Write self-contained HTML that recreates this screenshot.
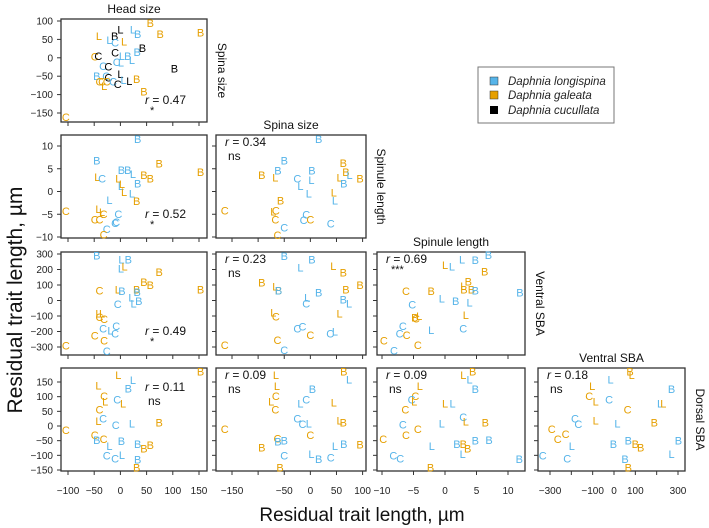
<!DOCTYPE html>
<html><head><meta charset="utf-8"><style>
html,body{margin:0;padding:0;background:#fff;}
svg{display:block;font-family:"Liberation Sans",sans-serif;}
</style></head><body>
<svg id="chart" width="709" height="528" viewBox="0 0 709 528">
<text x="22" y="300" font-size="21" text-anchor="middle" transform="rotate(-90 22 300)" fill="#111">Residual trait length, µm</text>
<text x="362" y="521" font-size="19" text-anchor="middle" fill="#111">Residual trait length, µm</text>
<g>
<rect x="478" y="67" width="136" height="56" fill="#fff" stroke="#777" stroke-width="1"/>
<rect x="490" y="77" width="8" height="8" fill="#56b4e9" stroke="#333" stroke-width="0.5"/>
<text x="508" y="85" font-size="11.5" font-style="italic" fill="#222">Daphnia longispina</text>
<rect x="490" y="91" width="8" height="8" fill="#e69f00" stroke="#333" stroke-width="0.5"/>
<text x="508" y="99" font-size="11.5" font-style="italic" fill="#222">Daphnia galeata</text>
<rect x="490" y="106" width="8" height="8" fill="#000"/>
<text x="508" y="114" font-size="11.5" font-style="italic" fill="#222">Daphnia cucullata</text>
</g>
</svg>
<script>
// data: [x, y, species+letter]  b=longispina o=galeata k=cucullata
const p00=[[57,95,'oB'],[76,64,'oB'],[153,69,'oB'],[-41,59,'oL'],[0,77,'kL'],[-11,59,'kB'],[24,77,'bL'],[33,64,'bB'],[-21,48,'bL'],[-10,41,'bC'],[7,44,'oL'],[-10,15,'kC'],[3,5,'bL'],[14,5,'bB'],[32,16,'bB'],[42,26,'kB'],[22,-6,'bL'],[-49,3,'oC'],[-42,5,'kC'],[-7,-11,'bC'],[1,-13,'bL'],[-33,-22,'bC'],[-23,-24,'kC'],[103,-29,'kB'],[-45,-49,'bB'],[-27,-49,'bC'],[-23,-53,'kC'],[0,-44,'kL'],[6,-60,'bL'],[17,-63,'kL'],[31,-58,'oB'],[-40,-65,'oC'],[-35,-65,'oC'],[-31,-76,'oL'],[-26,-65,'oC'],[-14,-65,'bC'],[-5,-71,'kC'],[45,-91,'oB'],[-104,-161,'oC']];
const p10=[[33,11.5,'bB'],[-45,6.8,'bB'],[74,6.2,'oB'],[153,4.3,'oB'],[-44,3.2,'oL'],[-35,2.9,'bC'],[2,4.7,'bB'],[14,4.7,'bB'],[24,3.8,'bL'],[-4,2.9,'oL'],[3,1.6,'oL'],[45,3.6,'oB'],[57,2.9,'oB'],[33,1.8,'bB'],[1,1.2,'bL'],[7,-0.1,'oL'],[22,-0.4,'bL'],[31,-2.1,'oB'],[-21,-1.9,'bL'],[-42,-3.8,'oL'],[-35,-4.5,'oL'],[-32,-4.9,'oC'],[-104,-4.3,'oC'],[-4,-4.9,'bC'],[-49,-6.2,'oC'],[-40,-6.2,'oC'],[-8,-6.7,'bC'],[-10,-6.9,'bC'],[-26,-8.2,'bC'],[-32,-9.4,'oC']];
const p20=[[-45,291,'bB'],[2,265,'bL'],[15,265,'bB'],[1,207,'bL'],[8,218,'oL'],[74,183,'oB'],[45,119,'oB'],[57,99,'oB'],[153,71,'oB'],[-40,63,'oC'],[-5,71,'oL'],[3,60,'bB'],[31,71,'oB'],[32,54,'bB'],[21,19,'bL'],[35,-4,'bB'],[25,-19,'bL'],[-5,-24,'bC'],[-42,-84,'oL'],[-35,-84,'oL'],[-40,-106,'oC'],[-31,-119,'oC'],[-8,-166,'bC'],[-33,-181,'bC'],[-19,-192,'bL'],[-10,-214,'bC'],[-49,-225,'oC'],[-31,-257,'oC'],[-26,-326,'bC'],[-104,-291,'oC']];
const p30=[[153,185,'oB'],[-4,174,'oL'],[24,157,'bL'],[15,128,'bB'],[-42,138,'oL'],[-31,102,'oC'],[-29,83,'oL'],[-6,91,'bC'],[5,77,'oL'],[-40,57,'oC'],[-42,17,'oL'],[-33,26,'bC'],[-9,3,'bC'],[22,9,'bL'],[74,12,'oB'],[-49,-31,'oC'],[-45,-48,'bB'],[-32,-45,'oC'],[2,-51,'bB'],[-21,-68,'bL'],[33,-61,'bB'],[45,-76,'oB'],[57,-65,'oB'],[-26,-101,'bC'],[-10,-110,'bC'],[3,-99,'bL'],[33,-114,'bB'],[31,-142,'oB'],[-104,-14,'oC']];
const p11=[[16,11.5,'bB'],[-50,6.8,'bB'],[-62,4.6,'bB'],[-93,3.6,'oB'],[-67,3.1,'oL'],[-25,2.9,'bC'],[-19,1.2,'bL'],[3,4.6,'bB'],[2,2.5,'bL'],[-3,-0.4,'bL'],[63,6.3,'oB'],[68,4.3,'oB'],[56,3.1,'oL'],[75,3.6,'bL'],[64,1.8,'bB'],[95,2.9,'oB'],[45,-0.2,'oL'],[47,-2.0,'bL'],[-57,-2.0,'oB'],[-71,-4.4,'oL'],[-66,-4.2,'oC'],[-67,-6.1,'oC'],[-164,-4.2,'oC'],[-8,-5.0,'bC'],[-13,-6.3,'bC'],[0,-6.1,'oC'],[39,-7.0,'bC'],[-50,-7.9,'bC'],[-63,-9.6,'oC']];
const p21=[[-50,287,'bB'],[3,266,'bB'],[-19,212,'bL'],[44,223,'oL'],[63,182,'oB'],[-93,117,'oB'],[-67,89,'oL'],[-61,63,'oB'],[-61,63,'bB'],[16,52,'bB'],[68,72,'oB'],[95,100,'oB'],[-6,20,'bL'],[-8,-18,'bC'],[63,5,'bB'],[74,-18,'bL'],[-71,-79,'oL'],[-66,-104,'oC'],[56,-83,'oL'],[-25,-180,'bC'],[-15,-169,'bC'],[0,-223,'oC'],[38,-212,'bC'],[47,-201,'bL'],[-164,-287,'oC'],[-63,-255,'oC'],[-50,-319,'bC']];
const p31=[[64,185,'oB'],[74,159,'bL'],[-66,174,'oL'],[-64,137,'oL'],[4,126,'bB'],[-66,102,'oC'],[-75,83,'oL'],[-8,91,'bC'],[-19,77,'bL'],[-67,56,'oC'],[45,80,'oL'],[-25,26,'bC'],[-15,7,'bC'],[-3,9,'bL'],[56,18,'oL'],[63,12,'oB'],[-164,-11,'oC'],[0,-31,'oC'],[-63,-42,'oC'],[-62,-52,'bB'],[-50,-50,'bB'],[-93,-74,'oB'],[47,-68,'bL'],[64,-61,'bB'],[95,-63,'oB'],[-50,-101,'bC'],[2,-95,'bL'],[16,-112,'bB'],[39,-108,'bC'],[-58,-141,'oB']];
const p22=[[6.9,294,'bB'],[2.7,266,'bL'],[4.8,261,'bB'],[0,229,'oL'],[1.1,218,'bL'],[6.3,186,'oB'],[3.7,121,'oB'],[2.9,94,'oL'],[3.0,72,'oB'],[4.2,72,'oB'],[4.8,63,'bB'],[-6.2,61,'oC'],[-2.2,61,'oB'],[-0.5,14,'bL'],[1.7,-3,'bB'],[3.9,-14,'bL'],[11.9,53,'bB'],[-5.2,-25,'bC'],[-4.1,-100,'oL'],[-4.8,-109,'oB'],[-4.6,-115,'oC'],[3.3,-94,'oL'],[-6.7,-165,'bC'],[-7.2,-212,'bC'],[-6.1,-223,'oC'],[-2.2,-190,'bL'],[2.9,-180,'bC'],[-9.7,-259,'oC'],[-4.3,-287,'oC'],[-8.1,-324,'bC']];
const p32=[[4.4,185,'oB'],[2.9,174,'oL'],[3.9,159,'bL'],[4.8,126,'bB'],[-4.0,137,'oL'],[-4.7,102,'oC'],[-5.3,91,'bC'],[-4.9,83,'oL'],[0,77,'oL'],[1.2,77,'bL'],[-6.3,56,'oC'],[2.9,30,'bC'],[3.3,15,'oL'],[6.4,12,'oB'],[-0.5,9,'bL'],[-6.7,5,'bC'],[-4.3,-11,'oC'],[-6.2,-31,'oC'],[-9.8,-44,'oC'],[1.9,-61,'bB'],[2.9,-61,'oB'],[3.6,-76,'oB'],[4.8,-50,'bB'],[7.0,-47,'bB'],[-2.1,-68,'bL'],[2.8,-95,'bL'],[-8.2,-101,'bC'],[-7.1,-110,'bC'],[-2.3,-141,'oB'],[11.8,-112,'bB']];
const p33=[[75,185,'oB'],[83,174,'oL'],[-16,159,'bL'],[-102,137,'oL'],[270,126,'bB'],[-116,102,'oC'],[-86,83,'oL'],[-23,91,'bC'],[64,56,'oC'],[216,77,'bL'],[231,77,'oL'],[-183,26,'bC'],[-167,7,'bC'],[-86,18,'oL'],[16,9,'bL'],[189,12,'oB'],[-292,-11,'oC'],[-227,-27,'oC'],[-264,-44,'oC'],[-198,-68,'bL'],[-3,-61,'bB'],[67,-50,'bB'],[100,-61,'oB'],[125,-73,'oB'],[302,-50,'bB'],[-334,-101,'bC'],[-219,-110,'bC'],[52,-112,'bB'],[270,-95,'bL'],[67,-141,'oB']];
const rValues=['0.47','0.52','0.49','0.11','0.34','0.23','0.09','0.69','0.09','0.18'];
const sigLabels=['*','*','*','ns','ns','ns','ns','***','ns','ns'];
const traitNames=['Head size','Spina size','Spinule length','Ventral SBA','Dorsal SBA'];
const colTicks=[[-100,-50,0,50,100,150],[-150,-100,-50,0,50,100],[-10,-5,0,5,10],[-300,-200,-100,0,100,200,300]];
const colTickLabels=[['-100','-50','0','50','100','150'],['-150','','-50','0','50','100'],['-10','-5','0','5','10'],['-300','','-100','0','100','','300']];
const rowTicks=[[100,50,0,-50,-100,-150],[10,5,0,-5,-10],[300,200,100,0,-100,-200,-300],[150,100,50,0,-50,-100,-150]];

const NS='http://www.w3.org/2000/svg';
const svg=document.getElementById('chart');
const colBox=[[61,207],[216,366],[377,525],[538,685]];
const rowBox=[[19,122],[135,238],[252,355],[368,471]];
const colMap=[[-100,68,150,199],[-150,232,100,362.6],[-10,382,10,508],[-300,550,300,678]];
const rowMap=[[100,21,-150,113],[10,146,-10,237],[300,254,-300,347],[150,382,-150,470]];
const COL={b:'#56b4e9',o:'#e69f00',k:'#000'};
function xs(c,v){const m=colMap[c];return m[1]+(v-m[0])*(m[3]-m[1])/(m[2]-m[0]);}
function ys(r,v){const m=rowMap[r];return m[1]+(v-m[0])*(m[3]-m[1])/(m[2]-m[0]);}
function mk(tag,attrs,parent){const e=document.createElementNS(NS,tag);for(const k in attrs)e.setAttribute(k,attrs[k]);(parent||svg).appendChild(e);return e;}
const panels=[[0,0,p00],[1,0,p10],[2,0,p20],[3,0,p30],[1,1,p11],[2,1,p21],[3,1,p31],[2,2,p22],[3,2,p32],[3,3,p33]];
panels.forEach(([r,c,data],i)=>{
  const g=mk('g',{});
  
  
  const x0=colBox[c][0],x1=colBox[c][1],y0=rowBox[r][0],y1=rowBox[r][1];
  const box=mk('rect',{x:x0,y:y0,width:x1-x0,height:y1-y0,fill:'none',stroke:'#333','stroke-width':1.3},g);
  
  
  colTicks[c].forEach((t,j)=>{
    const x=xs(c,t);
    const tk=mk('line',{x1:x,x2:x,y1:y1,y2:y1+4,stroke:'#333'},g);
    
    
    if(r===3&&colTickLabels[c][j]){const tl=mk('text',{x:x,y:494,'font-size':10,'text-anchor':'middle',fill:'#222'},g);tl.textContent=colTickLabels[c][j].replace('-','\u2212');
      
      }
  });
  rowTicks[r].forEach(t=>{
    const y=ys(r,t);
    const tk=mk('line',{x1:x0,x2:x0-4,y1:y,y2:y,stroke:'#333'},g);
    
    
    if(c===0){const tl=mk('text',{x:53,y:y+3.5,'font-size':10,'text-anchor':'end',fill:'#222'},g);tl.textContent=String(t).replace('-','\u2212');
      
      }
  });
  data.forEach(d=>{
    const t=mk('text',{x:xs(c,d[0]),y:ys(r,d[1])+4,'font-size':11,'text-anchor':'middle',fill:COL[d[2][0]]},g);
    t.textContent=d[2][1];
    
    
  });
  // annotations
  let rx,ry;
  if(r===c&&c>0){rx=x0+9;ry=y0+11;}else if(c===0&&r<3){rx=145;ry=y0+(r===0?85:83);}else if(c===0){rx=145;ry=y0+23;}else{rx=x0+9;ry=y0+11;}
  const rt=mk('text',{x:rx,y:ry,'font-size':12,fill:'#111'},g);
  rt.innerHTML='<tspan font-style="italic">r</tspan> = '+rValues[i];
  
  
  const st=mk('text',{x:sigLabels[i]==='ns'?rx+3:rx+5,y:ry+(sigLabels[i]==='ns'?14:10),'font-size':sigLabels[i]==='ns'?12:11,fill:'#111'},g);
  st.textContent=sigLabels[i];
  
  
  if(r===c){
    const tt=mk('text',{x:(x0+x1)/2,y:y0-6,'font-size':12,'text-anchor':'middle',fill:'#111'},g);
    tt.textContent=traitNames[c];
    
    
    const yc=(y0+y1)/2, xr=x1+11;
    const rl=mk('text',{x:xr,y:yc,'font-size':12,'text-anchor':'middle',fill:'#111',transform:'rotate(90 '+xr+' '+yc+')'},g);
    rl.textContent=traitNames[r+1];
    
    
  }
});
</script>
</body></html>
